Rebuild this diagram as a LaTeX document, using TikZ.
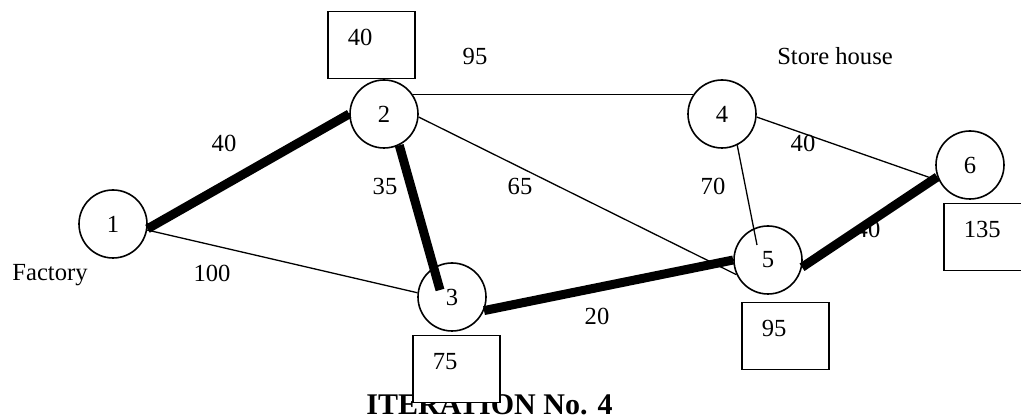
\documentclass[tikz,border=0pt]{standalone}
\usepackage{fontspec}
\setmainfont{Liberation Serif}
\usetikzlibrary{calc}

\tikzset{
  vertex/.style={circle,draw,line width=1.6pt,minimum size=68pt,inner sep=0pt},
  route/.style={line width=9pt},
  link/.style={line width=1.3pt},
  valbox/.style={draw,fill=white,line width=1.5pt,anchor=north west,
    inner xsep=20pt,inner ysep=0pt,text width=47pt,align=left,
    text height=34pt,text depth=33pt},
  lbl/.style={anchor=base,inner sep=0pt}
}

\begin{document}
\begin{tikzpicture}[x=1pt,y=-1pt,font=\fontsize{24.6}{29}\selectfont]
\useasboundingbox (0,0) rectangle (1021,419);

% title first, the box of node 3 sits on it
\node[lbl,font=\fontsize{30}{36}\selectfont\bfseries] (title) at (489.5,415) {ITERATION No. 4};

% nodes
\node[vertex] (n1) at (113,224) {1};
\node[vertex] (n2) at (384,114) {2};
\node[vertex] (n3) at (452,297) {3};
\node[vertex] (n4) at (722,114) {4};
\node[vertex] (n5) at (768,260) {5};
\node[vertex] (n6) at (970,165) {6};

\node[lbl] (factory) at (50,281) {Factory};
\node[lbl] (store) at (835,65) {Store house};

% distances
\node[lbl] (w12) at (224,152) {40};
\node[lbl] (w13) at (212,282) {100};
\node[lbl] (w23) at (385,195) {35};
\node[lbl] (w24) at (475,65) {95};
\node[lbl] (w25) at (520,195) {65};
\node[lbl] (w35) at (597,325) {20};
\node[lbl] (w45) at (713,195) {70};
\node[lbl] (w46) at (803,152) {40};
\node[lbl] (w56) at (868,238) {40};

% links
\draw[link] (n1.-10) -- (n3.173);
\draw[link] (n2.34) -- (n4.146);
\draw[link] (n2.-5) -- (n5.205);
\draw[link] (n4.-64) -- ($(n5)+(-11,-15)$);
\draw[link] (n4.-5) -- (n6.207);

% shortest route
\draw[route] (n1.-8) -- (n2.180);
\draw[route] (n2.-64) -- ($(n3)+(-12,-7)$);
\draw[route] (n3.-23) -- (n5.180);
\draw[route] (n5.-12) -- (n6.200);

% labels of the nodes
\node[valbox] (d2) at (327,11) {40};
\node[valbox] (d3) at (412,335) {75};
\node[valbox] (d5) at (741,302) {95};
\node[valbox] (d6) at (943,203) {135};

\end{tikzpicture}
\end{document}
